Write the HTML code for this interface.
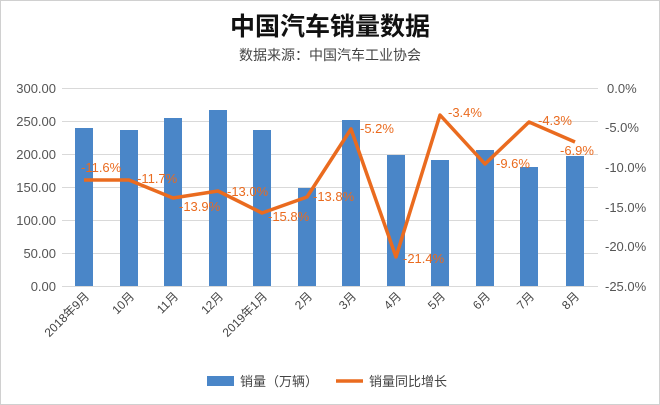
<!DOCTYPE html>
<html><head><meta charset="utf-8"><style>
body{margin:0;background:#fff}
svg{display:block;font-family:"Liberation Sans","Noto Sans CJK SC",sans-serif}
</style></head><body>
<svg width="660" height="405" viewBox="0 0 660 405">
<rect x="0.5" y="0.5" width="659" height="404" fill="#fff" stroke="#d0d0d0"/>
<text x="330" y="35" text-anchor="middle" font-size="25" font-weight="bold" fill="#111">中国汽车销量数据</text>
<text x="330" y="60" text-anchor="middle" font-size="14" fill="#444">数据来源：中国汽车工业协会</text>
<g stroke="#d9d9d9" stroke-width="1">
<line x1="62" x2="598" y1="88.5" y2="88.5"/><line x1="62" x2="598" y1="121.5" y2="121.5"/>
<line x1="62" x2="598" y1="154.5" y2="154.5"/><line x1="62" x2="598" y1="187.5" y2="187.5"/>
<line x1="62" x2="598" y1="220.5" y2="220.5"/><line x1="62" x2="598" y1="253.5" y2="253.5"/>
<line x1="62" x2="598" y1="286.5" y2="286.5"/>
</g>
<g font-size="13" fill="#555" text-anchor="end">
<text x="56" y="93">300.00</text><text x="56" y="126">250.00</text><text x="56" y="159">200.00</text>
<text x="56" y="192">150.00</text><text x="56" y="225">100.00</text><text x="56" y="258">50.00</text><text x="56" y="291">0.00</text>
</g>
<g font-size="13" fill="#555">
<text x="607" y="93">0.0%</text><text x="605" y="132">-5.0%</text><text x="605" y="172">-10.0%</text>
<text x="605" y="212">-15.0%</text><text x="605" y="251">-20.0%</text><text x="605" y="291">-25.0%</text>
</g>
<g fill="#4a86c8">
<rect x="75" y="128" width="18" height="158"/>
<rect x="120" y="130" width="18" height="156"/>
<rect x="164" y="118" width="18" height="168"/>
<rect x="209" y="110" width="18" height="176"/>
<rect x="253" y="130" width="18" height="156"/>
<rect x="298" y="188" width="18" height="98"/>
<rect x="342" y="120" width="18" height="166"/>
<rect x="387" y="155" width="18" height="131"/>
<rect x="431" y="160" width="18" height="126"/>
<rect x="476" y="150" width="18" height="136"/>
<rect x="520" y="167" width="18" height="119"/>
<rect x="566" y="156" width="18" height="130"/>
</g>
<polyline fill="none" stroke="#ea6b1f" stroke-width="3.5" stroke-linejoin="round"
points="84,180 129,180 173,198 218,191 262,213 307,197 351,129 396,257 440,115 485,164 529,122 575,142"/>
<g font-size="13" fill="#ea6b1f">
<text x="81" y="172">-11.6%</text><text x="137" y="183">-11.7%</text><text x="179" y="211">-13.9%</text>
<text x="227" y="196">-13.0%</text><text x="268" y="221">-15.8%</text><text x="313" y="201">-13.8%</text>
<text x="360" y="133">-5.2%</text><text x="403" y="263">-21.4%</text><text x="448" y="117">-3.4%</text>
<text x="496" y="168">-9.6%</text><text x="538" y="125">-4.3%</text><text x="560" y="155">-6.9%</text>
</g>
<g font-size="12" fill="#444" text-anchor="end">
<text transform="translate(90,297) rotate(-45)">2018年9月</text>
<text transform="translate(135,297) rotate(-45)">10月</text>
<text transform="translate(179,297) rotate(-45)">11月</text>
<text transform="translate(224,297) rotate(-45)">12月</text>
<text transform="translate(268,297) rotate(-45)">2019年1月</text>
<text transform="translate(313,297) rotate(-45)">2月</text>
<text transform="translate(357,297) rotate(-45)">3月</text>
<text transform="translate(402,297) rotate(-45)">4月</text>
<text transform="translate(446,297) rotate(-45)">5月</text>
<text transform="translate(491,297) rotate(-45)">6月</text>
<text transform="translate(535,297) rotate(-45)">7月</text>
<text transform="translate(580,297) rotate(-45)">8月</text>
</g>
<rect x="207" y="376" width="27" height="10" fill="#4a86c8"/>
<text x="240" y="386" font-size="13" fill="#444">销量（万辆）</text>
<line x1="336" x2="363" y1="381" y2="381" stroke="#ea6b1f" stroke-width="3.5"/>
<text x="369" y="386" font-size="13" fill="#444">销量同比增长</text>
</svg>
</body></html>
